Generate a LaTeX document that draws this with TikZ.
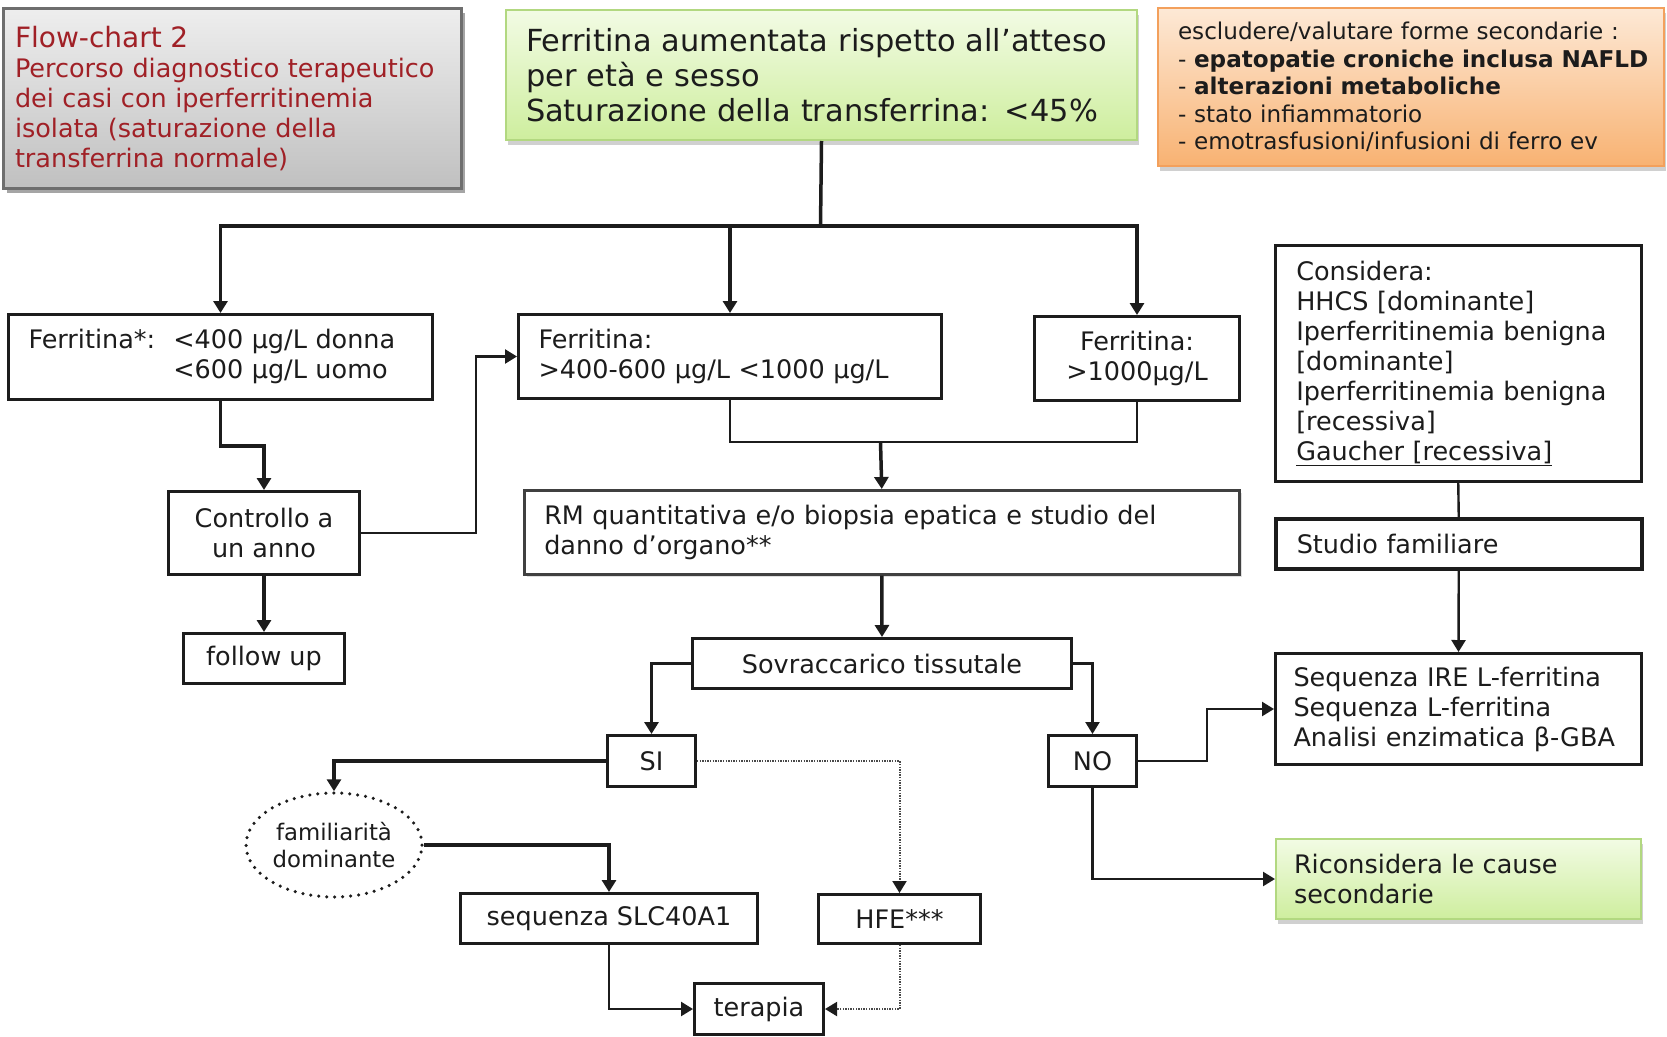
\documentclass[tikz,border=0pt]{standalone}
\usepackage{fontspec}
\setmainfont{DejaVu Sans}
\usetikzlibrary{arrows.meta,shadows,shapes.geometric}

\definecolor{ink}{RGB}{28,28,28}
\definecolor{titlered}{RGB}{160,32,38}
\definecolor{greytop}{RGB}{238,238,238}
\definecolor{greybot}{RGB}{192,192,192}
\definecolor{greyline}{RGB}{110,110,110}
\definecolor{greentop}{RGB}{242,251,228}
\definecolor{greenbot}{RGB}{206,238,158}
\definecolor{greenline}{RGB}{178,216,128}
\definecolor{orangetop}{RGB}{253,233,214}
\definecolor{orangebot}{RGB}{248,178,114}
\definecolor{orangeline}{RGB}{243,160,92}

\newcommand\bodysize{\fontsize{25.5}{30}\selectfont}

\tikzset{
  box/.style={draw=ink, line width=3pt, anchor=north west, inner xsep=20pt,
    inner ysep=0pt, text=ink, font=\bodysize},
  lbox/.style={box, align=left},
  cbox/.style={box, align=center, inner xsep=2pt},
  panel/.style={anchor=north west, inner ysep=0pt, inner xsep=20pt, align=left, text=ink},
  softshadow/.style={drop shadow={shadow xshift=2pt, shadow yshift=-5pt,
    opacity=0.3, fill=black!60}},
  conn/.style={draw=ink, line width=3.5pt},
  link/.style={draw=ink, line width=2.4pt},
  dots/.style={draw=ink!80, line width=2pt, dash pattern=on 1.4pt off 1.2pt},
  arrowed/.style={-{Triangle[length=12pt,width=14pt]}},
  dotarrowed/.style={-{Triangle[length=12pt,width=14pt,color=ink]}},
}

\begin{document}
\begin{tikzpicture}[x=1pt,y=-1pt]
\useasboundingbox (0,0) rectangle (1667,1036);
\fill[white] (0,0) rectangle (1667,1036);
\clip (0,0) rectangle (1667,1036);

% --- header panels ---
\node[panel, text width=434pt, minimum height=180pt, draw=greyline, line width=3pt,
  top color=greytop, bottom color=greybot, text=titlered, inner xsep=12pt,
  drop shadow={shadow xshift=4pt, shadow yshift=-4pt, opacity=0.5, fill=black!70},
  font=\fontsize{25.5}{30}\selectfont] (title) at (1.5,7)
  {{\fontsize{28}{30}\selectfont Flow-chart 2}\\
   \mbox{Percorso diagnostico terapeutico}\\
   dei casi con iperferritinemia\\
   isolata (saturazione della\\
   transferrina normale)};

\node[panel, softshadow, draw=greenline, line width=2pt, top color=greentop,
  bottom color=greenbot, text width=591pt, minimum height=130pt,
  font=\fontsize{30.4}{35}\selectfont] (top) at (505,9)
  {\mbox{Ferritina aumentata rispetto all’atteso}\\
   per età e sesso\\
   \mbox{Saturazione della transferrina: <45\%}};

\node[panel, softshadow, draw=orangeline, line width=2pt, top color=orangetop,
  bottom color=orangebot, text width=466pt, minimum height=158pt,
  font=\fontsize{23.1}{27.5}\selectfont] (sec) at (1157,7)
  {\mbox{escludere/valutare forme secondarie :}\\
   \mbox{- \textbf{epatopatie croniche inclusa NAFLD}}\\
   - \textbf{alterazioni metaboliche}\\
   - stato infiammatorio\\
   \mbox{- emotrasfusioni/infusioni di ferro ev}};

% --- ferritin ranges ---
\node[lbox, text width=384pt, minimum height=85pt] (f1) at (7,313)
  {\begin{tabular}{@{}l@{\hspace{18pt}}l@{}}
   Ferritina*: & <400 μg/L donna\\
               & <600 μg/L uomo
   \end{tabular}};

\node[lbox, text width=383pt, minimum height=84pt] (f2) at (517,313)
  {Ferritina:\\ \mbox{>400-600 μg/L <1000 μg/L}};

\node[cbox, minimum width=205pt, minimum height=84pt] (f3) at (1033,315)
  {Ferritina:\\ >1000μg/L};

\node[lbox, text width=324pt, inner xsep=21pt, minimum height=236pt, line width=2.5pt] (cons) at (1274,244)
  {Considera:\\
   HHCS [dominante]\\
   Iperferritinemia benigna\\
   {[dominante]}\\
   Iperferritinemia benigna\\
   {[recessiva]}\\
   \underline{Gaucher [recessiva]}};

% --- follow-up branch ---
\node[cbox, minimum width=191pt, minimum height=83pt] (ctrl) at (167,490)
  {Controllo a\\ un anno};
\node[cbox, minimum width=161pt, minimum height=50pt] (follow) at (182,632) {follow up};

% --- work-up ---
\node[lbox, text width=675pt, minimum height=84pt, draw=black!75, line width=2.5pt,
  drop shadow={shadow xshift=3pt, shadow yshift=-3pt, opacity=0.25, fill=black!50},
  fill=white] (rm) at (523,489)
  {RM quantitativa e/o biopsia epatica e studio del\\ danno d’organo**};

\node[lbox, text width=324pt, inner xsep=21pt, minimum height=50pt, line width=3.5pt] (studio) at (1274,517)
  {Studio familiare};

\node[cbox, minimum width=379pt, minimum height=50pt] (sov) at (691,637)
  {Sovraccarico tissutale};

\node[lbox, text width=330pt, inner xsep=18pt, minimum height=111pt] (seq) at (1274,652)
  {Sequenza IRE L-ferritina\\
   Sequenza L-ferritina\\
   Analisi enzimatica β-GBA};

\node[cbox, minimum width=88pt, minimum height=51pt] (si) at (606,734) {SI};
\node[cbox, minimum width=88pt, minimum height=51pt] (no) at (1047,734) {NO};

\node[ellipse, draw=ink, line width=3.5pt, dash pattern=on 0pt off 8pt, line cap=round,
  minimum width=176pt, minimum height=104pt, inner sep=0pt, align=center, text=ink,
  font=\fontsize{22.8}{27}\selectfont] (ell) at (334,845)
  {familiarità\\ dominante};

\node[panel, softshadow, draw=greenline, line width=2pt, top color=greentop,
  bottom color=greenbot, text width=329pt, inner xsep=18pt, minimum height=80pt,
  font=\bodysize] (ric) at (1275,838)
  {Riconsidera le cause\\ secondarie};

\node[cbox, minimum width=297pt, minimum height=50pt] (slc) at (459,892) {sequenza SLC40A1};
\node[cbox, minimum width=162pt, minimum height=49pt] (hfe) at (817,893) {HFE***};
\node[cbox, minimum width=129pt, minimum height=51pt] (ter) at (693,982) {terapia};

% --- connectors ---
\coordinate (hub) at (820.5,226);
\draw[conn] (top.south) -- (hub);
\draw[conn, arrowed] (hub) -| (f1.north);
\draw[conn, arrowed] (hub) -| (f2.north);
\draw[conn, arrowed] (hub) -| (f3.north);

\draw[conn, arrowed] (f1.south) -- ++(0,45) -| (ctrl.north);
\draw[link, arrowed] (ctrl.east) -- ++(115,0) |- (f2.west);
\draw[conn, arrowed] (ctrl.south) -- (follow.north);

\coordinate (join) at (880.5,442);
\draw[link] (f2.south) |- (join) -| (f3.south);
\draw[conn, arrowed] (join) -- (rm.north);
\draw[conn, arrowed] (rm.south) -- (sov.north);

\draw[conn, arrowed] (sov.west) -| (si.north);
\draw[link, arrowed] (sov.east) -| (no.north);
\draw[conn, arrowed] (si.west) -| (ell.north);
\draw[dots, dotarrowed] (si.east) -| (hfe.north);
\draw[conn, arrowed] (ell.east) -| (slc.north);
\draw[link, arrowed] (slc.south) |- (ter.west);
\draw[dots, dotarrowed] (hfe.south) |- (ter.east);

\draw[link, arrowed] (no.east) -- ++(69,0) |- (seq.west);
\draw[link, arrowed] (no.south) |- (ric.west);
\draw[link] (cons.south) -- (studio.north);
\draw[link, arrowed] (studio.south) -- (seq.north);
\end{tikzpicture}
\end{document}
